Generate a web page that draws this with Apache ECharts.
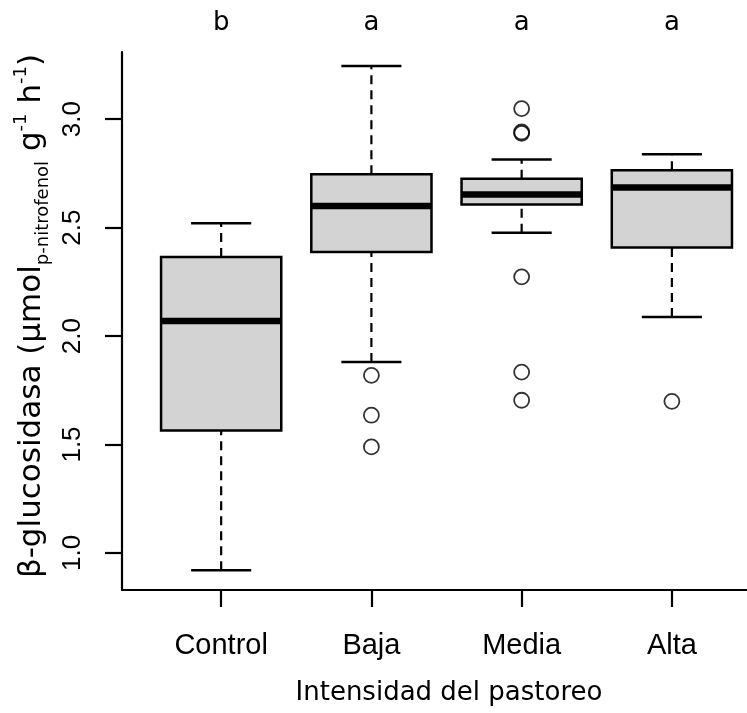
<!DOCTYPE html>
<html>
<head>
<meta charset="utf-8">
<script src="https://cdn.jsdelivr.net/npm/echarts@6/dist/echarts.min.js"></script>
<style>
html,body{margin:0;padding:0;background:#fff;}
#chart{width:747px;height:713px;}
</style>
</head>
<body>
<div id="chart"></div>
<script>
// ---- data ----
var categories = ['Control', 'Baja', 'Media', 'Alta'];
var letters = ['b', 'a', 'a', 'a'];
var whiskerLow = [0.92, 1.88, 2.476, 2.088];
var q1 = [1.565, 2.388, 2.607, 2.408];
var median = [2.07, 2.60, 2.653, 2.685];
var q3 = [2.365, 2.746, 2.726, 2.765];
var whiskerHigh = [2.52, 3.245, 2.814, 2.839];
var controlOutliers = [];
var bajaOutliers = [1.819, 1.635, 1.489];
var mediaOutliers = [3.049, 2.941, 2.935, 2.273, 1.834, 1.704];
var altaOutliers = [1.699];
var yTicks = [1.0, 1.5, 2.0, 2.5, 3.0];
var xTicks = [1, 2, 3, 4];

var boxData = categories.map(function (c, i) {
  return [i + 1, whiskerLow[i], q1[i], median[i], q3[i], whiskerHigh[i]];
});
var outlierData = [];
[controlOutliers, bajaOutliers, mediaOutliers, altaOutliers].forEach(function (arr, i) {
  arr.forEach(function (v) { outlierData.push([i + 1, v]); });
});

var HALF = 0.4, STAPLE = 0.2;

function renderBox(params, api) {
  var x = api.value(0);
  var lo = api.value(1), a = api.value(2), m = api.value(3), b = api.value(4), hi = api.value(5);
  var pLo = api.coord([x, lo]), pA = api.coord([x, a]), pB = api.coord([x, b]), pHi = api.coord([x, hi]);
  var left = api.coord([x - HALF, m]), right = api.coord([x + HALF, m]);
  var sL = api.coord([x - STAPLE, lo]), sR = api.coord([x + STAPLE, lo]);
  var tL = api.coord([x - STAPLE, hi]), tR = api.coord([x + STAPLE, hi]);
  var boxL = api.coord([x - HALF, b]), boxR = api.coord([x + HALF, a]);
  var dash = { stroke: '#000', lineWidth: 2.2, lineDash: [9, 6], fill: null };
  var solid = { stroke: '#000', lineWidth: 2.5, fill: null };
  return {
    type: 'group',
    children: [
      { type: 'line', shape: { x1: pLo[0], y1: pLo[1], x2: pA[0], y2: pA[1] }, style: dash },
      { type: 'line', shape: { x1: pB[0], y1: pB[1], x2: pHi[0], y2: pHi[1] }, style: dash },
      { type: 'line', shape: { x1: sL[0], y1: sL[1], x2: sR[0], y2: sR[1] }, style: solid },
      { type: 'line', shape: { x1: tL[0], y1: tL[1], x2: tR[0], y2: tR[1] }, style: solid },
      { type: 'rect', shape: { x: boxL[0], y: boxL[1], width: boxR[0] - boxL[0], height: boxR[1] - boxL[1] },
        style: { fill: '#d3d3d3', stroke: '#000', lineWidth: 2.5 } },
      { type: 'line', shape: { x1: left[0], y1: left[1], x2: right[0], y2: right[1] },
        style: { stroke: '#000', lineWidth: 6.5 } }
    ]
  };
}

var chart = echarts.init(document.getElementById('chart'), null, { renderer: 'canvas' });
chart.setOption({
  animation: false,
  backgroundColor: '#fff',
  grid: { left: 122, right: 0, top: 52, bottom: 123, containLabel: false },
  xAxis: [{
    type: 'value', min: 0.34, max: 4.5, position: 'bottom',
    splitLine: { show: false },
    axisLine: { show: true, onZero: false, lineStyle: { color: '#000', width: 2.2 } },
    axisTick: { show: true, inside: false, length: 17, customValues: xTicks, lineStyle: { color: '#000', width: 2.2 } },
    axisLabel: {
      customValues: xTicks, margin: 41, fontSize: 29, color: '#000', fontFamily: 'Liberation Sans',
      formatter: function (v) { return categories[Math.round(v) - 1]; }
    }
  }, {
    type: 'value', min: 0.34, max: 4.5, position: 'top',
    splitLine: { show: false },
    axisLine: { show: false }, axisTick: { show: false },
    axisLabel: {
      customValues: xTicks, margin: 16, fontSize: 26, color: '#000', fontFamily: 'DejaVu Sans',
      formatter: function (v) { return letters[Math.round(v) - 1]; }
    }
  }],
  yAxis: {
    type: 'value', min: 0.829, max: 3.31,
    splitLine: { show: false },
    axisLine: { show: true, onZero: false, lineStyle: { color: '#000', width: 2.2 } },
    axisTick: { show: true, inside: false, length: 17, customValues: yTicks, lineStyle: { color: '#000', width: 2.2 } },
    axisLabel: {
      customValues: yTicks, rotate: 90, margin: 36, fontSize: 26, color: '#000', fontFamily: 'Liberation Sans',
      formatter: function (v) { return v.toFixed(1); }
    }
  },
  series: [{
    type: 'custom',
    xAxisIndex: 0,
    renderItem: renderBox,
    encode: { x: 0, y: [1, 2, 3, 4, 5] },
    data: boxData,
    z: 2
  }, {
    type: 'scatter',
    xAxisIndex: 0,
    symbol: 'circle',
    symbolSize: 15,
    itemStyle: { color: 'rgba(0,0,0,0)', borderColor: '#000', borderWidth: 1.8 },
    data: outlierData,
    z: 3
  }],
  graphic: [{
    type: 'text',
    x: 32, y: 316,
    rotation: Math.PI / 2,
    style: {
      text: '{m|β-glucosidasa (µmol}{s|p-nitrofenol}{m| g}{u|-1}{m| h}{u|-1}{m|)}',
      align: 'center', verticalAlign: 'middle',
      fill: '#000',
      rich: {
        m: { fontSize: 31, fontFamily: 'DejaVu Sans', lineHeight: 40, verticalAlign: 'middle', fill: '#000' },
        s: { fontSize: 18, fontFamily: 'DejaVu Sans', lineHeight: 18, verticalAlign: 'bottom', fill: '#000' },
        u: { fontSize: 18, fontFamily: 'DejaVu Sans', lineHeight: 18, verticalAlign: 'top', fill: '#000' }
      }
    }
  }, {
    type: 'text',
    x: 449, y: 693,
    style: {
      text: 'Intensidad del pastoreo',
      align: 'center', verticalAlign: 'middle',
      fontSize: 26, fontFamily: 'DejaVu Sans', fill: '#000'
    }
  }]
});
</script>
</body>
</html>
